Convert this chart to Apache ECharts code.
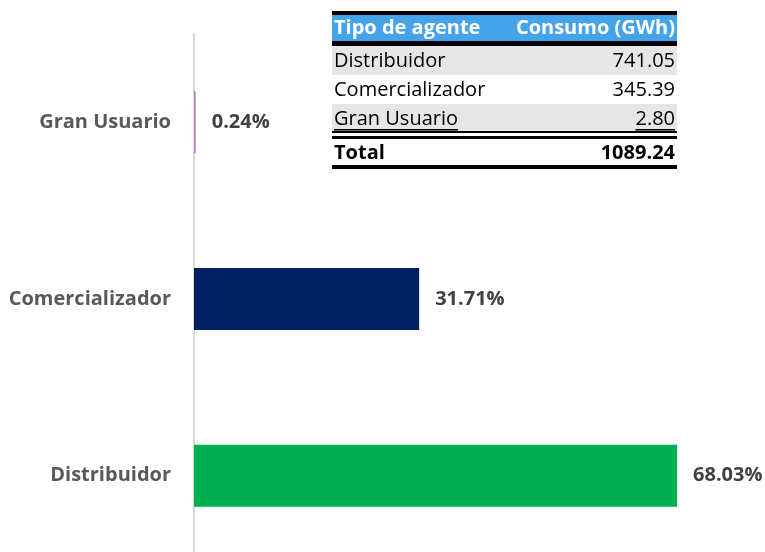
<!DOCTYPE html>
<html>
<head>
<meta charset="utf-8">
<script src="https://cdn.jsdelivr.net/npm/echarts@6/dist/echarts.min.js"></script>
<style>
  html, body { margin: 0; padding: 0; background: #fff; }
  #chart { width: 765px; height: 552px; }
</style>
</head>
<body>
<div id="chart"></div>
<script>
// datos del gráfico (de abajo hacia arriba)
const categories = ['Distribuidor', 'Comercializador', 'Gran Usuario'];
const shares = [68.03, 31.71, 0.24];
const barColors = ['#00B050', '#002060', '#C77CC9'];

// tabla de consumo
const tableHeader = ['Tipo de agente', 'Consumo (GWh)'];
const tableAgents = ['Distribuidor', 'Comercializador', 'Gran Usuario'];
const tableConsumo = ['741.05', '345.39', '2.80'];
const tableTotal = ['Total', '1089.24'];

const chart = echarts.init(document.getElementById('chart'));

const FONT = '"Open Sans", sans-serif';
const TFONT = '20px ' + FONT;
const tx = 332, tw = 345;   // posición de la tabla
const rowTops = [46, 75, 104];
const rowH = 28;

// para medir el ancho del texto subrayado
const ctx = document.createElement('canvas').getContext('2d');
const measure = (s, font) => { ctx.font = font; return ctx.measureText(s).width; };

const g = [];
const rect = (x, y, w, h, fill) => g.push({type: 'rect', shape: {x: x, y: y, width: w, height: h}, style: {fill: fill}, silent: true});
const text = (x, y, s, align, bold, color) => g.push({
	type: 'text', x: x, y: y,
	style: {text: s, fill: color || '#000', font: (bold ? 'bold ' : '') + TFONT, textAlign: align, textVerticalAlign: 'middle'},
	silent: true
});

// encabezado
rect(tx, 11, tw, 4, '#000');
rect(tx, 15, tw, 26, '#45A3EA');
rect(tx, 41, tw, 5, '#000');
text(tx + 2, 28, tableHeader[0], 'left', true, '#fff');
text(tx + tw - 2, 28, tableHeader[1], 'right', true, '#fff');
// filas
tableAgents.forEach((a, i) => {
	if (i !== 1) rect(tx, rowTops[i], tw, i === 2 ? 27 : 29, '#E7E6E6');
	text(tx + 2, rowTops[i] + rowH / 2 + 1, a, 'left', false);
	text(tx + tw - 2, rowTops[i] + rowH / 2 + 1, tableConsumo[i], 'right', false);
});
// subrayado de la última fila
const w1 = measure(tableAgents[2], TFONT);
const w2 = measure(tableConsumo[2], TFONT);
rect(tx + 2, 129, w1, 1.5, '#000');
rect(tx + tw - 2 - w2, 129, w2, 1.5, '#000');
rect(tx, 131, tw, 2, '#000');
rect(tx, 136, tw, 3, '#000');
text(tx + 2, 153, tableTotal[0], 'left', true);
text(tx + tw - 2, 153, tableTotal[1], 'right', true);
rect(tx, 165, tw, 4, '#000');

const option = {
	animation: false,
	grid: {left: 194, right: 74, top: 34, height: 530, outerBoundsMode: 'none'},
	xAxis: {
		type: 'value', min: 0, max: 70, show: false,
		splitLine: {show: false}
	},
	yAxis: {
		type: 'category',
		data: categories,
		axisLine: {show: true, lineStyle: {color: '#D9D9D9', width: 2}},
		axisTick: {show: false},
		axisLabel: {
			color: '#595959', fontWeight: 'bold', fontSize: 20, fontFamily: FONT, margin: 23
		}
	},
	series: [{
		type: 'bar',
		barWidth: 62,
		data: shares.map((v, i) => ({value: v, itemStyle: {color: barColors[i]}})),
		label: {
			show: true, position: 'right', distance: 16,
			color: '#404040', fontWeight: 'bold', fontSize: 20, fontFamily: FONT,
			formatter: p => p.value.toFixed(2) + '%'
		}
	}],
	graphic: g
};

chart.setOption(option);
</script>
</body>
</html>
